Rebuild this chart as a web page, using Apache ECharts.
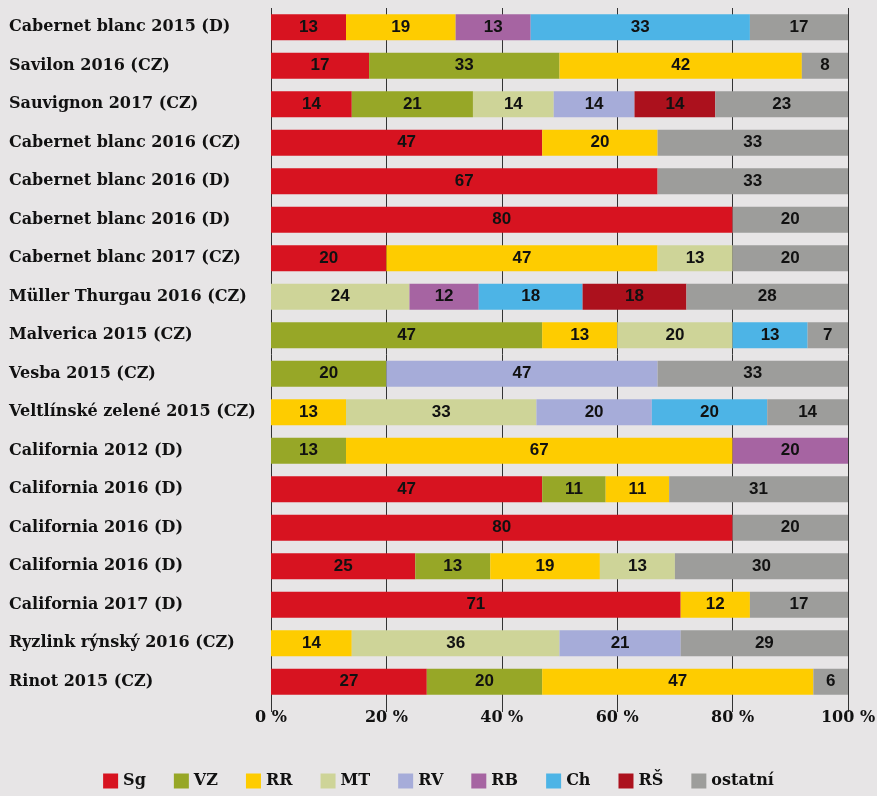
<!DOCTYPE html>
<html>
<head>
<meta charset="utf-8">
<script src="https://cdn.jsdelivr.net/npm/echarts@6/dist/echarts.min.js"></script>
<style>
  html, body { margin: 0; padding: 0; background: #e7e5e6; }
  #chart { width: 877px; height: 796px; }
</style>
</head>
<body>
<div id="chart"></div>
<script>
// kategorie odshora dolů
const wines = [
  'Cabernet blanc 2015 (D)', 'Savilon 2016 (CZ)', 'Sauvignon 2017 (CZ)',
  'Cabernet blanc 2016 (CZ)', 'Cabernet blanc 2016 (D)', 'Cabernet blanc 2016 (D)',
  'Cabernet blanc 2017 (CZ)', 'Müller Thurgau 2016 (CZ)', 'Malverica 2015 (CZ)',
  'Vesba 2015 (CZ)', 'Veltlínské zelené 2015 (CZ)', 'California 2012 (D)',
  'California 2016 (D)', 'California 2016 (D)', 'California 2016 (D)',
  'California 2017 (D)', 'Ryzlink rýnský 2016 (CZ)', 'Rinot 2015 (CZ)'
]

const sg   = [13, 17, 14, 47, 67, 80, 20, 0, 0, 0, 0, 0, 47, 80, 25, 71, 0, 27]
const vz   = [0, 33, 21, 0, 0, 0, 0, 0, 47, 20, 0, 13, 11, 0, 13, 0, 0, 20]
const rr   = [19, 42, 0, 20, 0, 0, 47, 0, 13, 0, 13, 67, 11, 0, 19, 12, 14, 47]
const mt   = [0, 0, 14, 0, 0, 0, 13, 24, 20, 0, 33, 0, 0, 0, 13, 0, 36, 0]
const rv   = [0, 0, 14, 0, 0, 0, 0, 0, 0, 47, 20, 0, 0, 0, 0, 0, 21, 0]
const rb   = [13, 0, 0, 0, 0, 0, 0, 12, 0, 0, 0, 20, 0, 0, 0, 0, 0, 0]
const ch   = [38, 0, 0, 0, 0, 0, 0, 18, 13, 0, 20, 0, 0, 0, 0, 0, 0, 0]
const rs   = [0, 0, 14, 0, 0, 0, 0, 18, 0, 0, 0, 0, 0, 0, 0, 0, 0, 0]
const ost  = [17, 8, 23, 33, 33, 20, 20, 28, 7, 33, 14, 0, 31, 20, 30, 17, 29, 6]

// v originále je u prvního řádku segment Ch popsán 33, i když je širší
const chLabels = [33]

const names  = ['Sg', 'VZ', 'RR', 'MT', 'RV', 'RB', 'Ch', 'RŠ', 'ostatní']
const colors = ['#d71320', '#97a727', '#fecc00', '#ced498', '#a6acd9', '#a664a2', '#4db4e6', '#ac111d', '#9d9d9b']
const values = [sg, vz, rr, mt, rv, rb, ch, rs, ost]

const serif = '"DejaVu Serif", serif'
const sans = '"Liberation Sans", Arial, sans-serif'

const chart = echarts.init(document.getElementById('chart'))

chart.setOption({
  backgroundColor: '#e7e5e6',
  animation: false,
  grid: { left: 271, right: 29, top: 8, bottom: 95, outerBoundsMode: 'none' },
  legend: {
    bottom: 2,
    left: 'center',
    icon: 'rect',
    itemWidth: 15,
    itemHeight: 15,
    itemGap: 28,
    textStyle: { fontFamily: serif, fontWeight: 'bold', fontSize: 16, color: '#111' },
    data: names
  },
  xAxis: {
    type: 'value',
    min: 0,
    max: 100,
    interval: 20,
    axisLine: { show: false },
    axisTick: { show: true, length: 11, lineStyle: { color: '#333' } },
    splitLine: { lineStyle: { color: '#333', width: 1 } },
    axisLabel: {
      formatter: '{value} %',
      margin: 9,
      fontFamily: serif,
      fontWeight: 'bold',
      fontSize: 16,
      color: '#111'
    }
  },
  yAxis: {
    type: 'category',
    inverse: true,
    data: wines,
    axisLine: { show: false },
    axisTick: { show: false },
    axisLabel: {
      align: 'left',
      margin: 262,
      fontFamily: serif,
      fontWeight: 'bold',
      fontSize: 16,
      color: '#111'
    }
  },
  series: names.map((n, i) => ({
    name: n,
    type: 'bar',
    stack: 'all',
    barWidth: 26,
    itemStyle: { color: colors[i] },
    label: {
      show: true,
      position: 'inside',
      fontFamily: sans,
      fontWeight: 'bold',
      fontSize: 17,
      color: '#111',
      formatter: (p) => {
        if (!p.value) return ''
        if (n === 'Ch' && chLabels[p.dataIndex] != null) return chLabels[p.dataIndex]
        return p.value
      }
    },
    data: values[i].map(v => v || null)
  }))
})
</script>
</body>
</html>
